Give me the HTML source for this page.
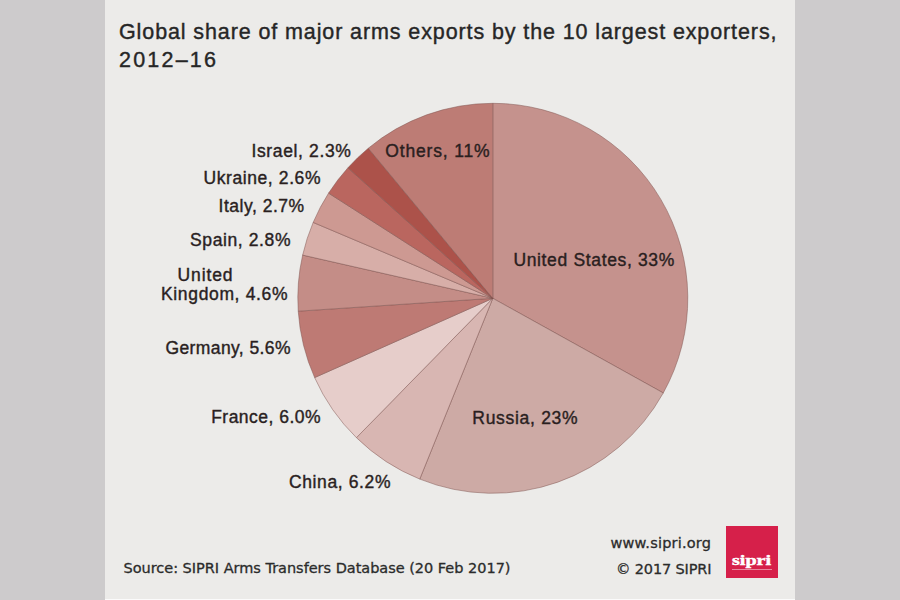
<!DOCTYPE html>
<html lang="en"><head><meta charset="utf-8"><title>Global share of major arms exports</title>
<style>
html,body{margin:0;padding:0}
body{width:900px;height:600px;overflow:hidden;background:#CDCBCC;position:relative;font-family:"Liberation Sans",sans-serif}
#panel{position:absolute;left:105px;top:0;width:690px;height:600px;background:#ECEBE9}
#strip{position:absolute;left:105px;top:599px;width:690px;height:1px;background:#fbfbfb}
svg{position:absolute;left:0;top:0}
.lab{font-family:"Liberation Sans",sans-serif;font-size:17.5px;fill:#2a1f1f;stroke:#2a1f1f;stroke-width:.4px}
.ttl{font-family:"Liberation Sans",sans-serif;font-size:21.5px;fill:#262626;stroke:#262626;stroke-width:.4px}
.ft{font-family:"DejaVu Sans","Liberation Sans",sans-serif;font-size:14.5px;fill:#2b2b2b;stroke:#2b2b2b;stroke-width:.3px}
#logo{position:absolute;left:726px;top:526px;width:52px;height:52px;background:#D6204A}
#logo span{position:absolute;left:6px;top:26.4px;-webkit-text-stroke:.45px #fff;font-family:"Liberation Serif",serif;font-weight:bold;font-size:15px;line-height:16px;color:#fff;transform-origin:0 0;transform:scaleX(1.34);white-space:nowrap}
#logo i{position:absolute;left:6px;top:43px;width:40px;height:1px;background:rgba(255,255,255,.45)}
</style></head><body>
<div id="panel"></div><div id="strip"></div>
<svg width="900" height="600" viewBox="0 0 900 600">
<g stroke="#7f5350" stroke-opacity="0.55" stroke-width="0.9" stroke-linejoin="round">
<path d="M492.80 298.30L492.80 103.30A195.0 195.0 0 0 1 663.29 392.95Z" fill="#C5928D"/>
<path d="M492.80 298.30L663.29 392.95A195.0 195.0 0 0 1 419.74 479.10Z" fill="#CDAAA5"/>
<path d="M492.80 298.30L419.74 479.10A195.0 195.0 0 0 1 356.44 437.70Z" fill="#D8B6B2"/>
<path d="M492.80 298.30L356.44 437.70A195.0 195.0 0 0 1 314.64 377.58Z" fill="#E6CDCA"/>
<path d="M492.80 298.30L314.64 377.58A195.0 195.0 0 0 1 298.23 311.18Z" fill="#BE7A74"/>
<path d="M492.80 298.30L298.23 311.18A195.0 195.0 0 0 1 302.65 255.08Z" fill="#C48D87"/>
<path d="M492.80 298.30L302.65 255.08A195.0 195.0 0 0 1 313.18 222.40Z" fill="#D7AEA8"/>
<path d="M492.80 298.30L313.18 222.40A195.0 195.0 0 0 1 328.60 193.11Z" fill="#CD9992"/>
<path d="M492.80 298.30L328.60 193.11A195.0 195.0 0 0 1 347.94 167.76Z" fill="#BA665F"/>
<path d="M492.80 298.30L347.94 167.76A195.0 195.0 0 0 1 368.29 148.22Z" fill="#AC524A"/>
<path d="M492.80 298.30L368.29 148.22A195.0 195.0 0 0 1 492.80 103.30Z" fill="#BD7C75"/>
</g>
<g class="ttl">
<text x="119" y="39.2" textLength="657.5" lengthAdjust="spacing">Global share of major arms exports by the 10 largest exporters,</text>
<text x="119" y="67.4" textLength="97" lengthAdjust="spacing">2012–16</text>
</g>
<g class="lab">
<text x="513.4" y="265.6" textLength="160.9" lengthAdjust="spacing">United States, 33%</text>
<text x="472.3" y="423.8" textLength="105.3" lengthAdjust="spacing">Russia, 23%</text>
<text x="289.0" y="487.8" textLength="101.5" lengthAdjust="spacing">China, 6.2%</text>
<text x="211.2" y="423.3" textLength="109.3" lengthAdjust="spacing">France, 6.0%</text>
<text x="165.4" y="354.4" textLength="125.1" lengthAdjust="spacing">Germany, 5.6%</text>
<text x="161.0" y="300.0" textLength="126.5" lengthAdjust="spacing">Kingdom, 4.6%</text>
<text x="177.6" y="281.0" textLength="54.9" lengthAdjust="spacing">United</text>
<text x="190.0" y="246.0" textLength="100.5" lengthAdjust="spacing">Spain, 2.8%</text>
<text x="218.6" y="212.0" textLength="85.5" lengthAdjust="spacing">Italy, 2.7%</text>
<text x="203.4" y="184.0" textLength="117.1" lengthAdjust="spacing">Ukraine, 2.6%</text>
<text x="251.4" y="156.6" textLength="99.5" lengthAdjust="spacing">Israel, 2.3%</text>
<text x="385.3" y="156.6" textLength="104.2" lengthAdjust="spacing">Others, 11%</text>
</g>
<g class="ft">
<text x="123.5" y="573.4" textLength="387" lengthAdjust="spacing">Source: SIPRI Arms Transfers Database (20 Feb 2017)</text>
<text x="610.5" y="548" textLength="100.5" lengthAdjust="spacing">www.sipri.org</text>
<text x="616" y="574" textLength="95.5" lengthAdjust="spacing">© 2017 SIPRI</text>
</g>
</svg>
<div id="logo"><span>sipri</span><i></i></div>
</body></html>
